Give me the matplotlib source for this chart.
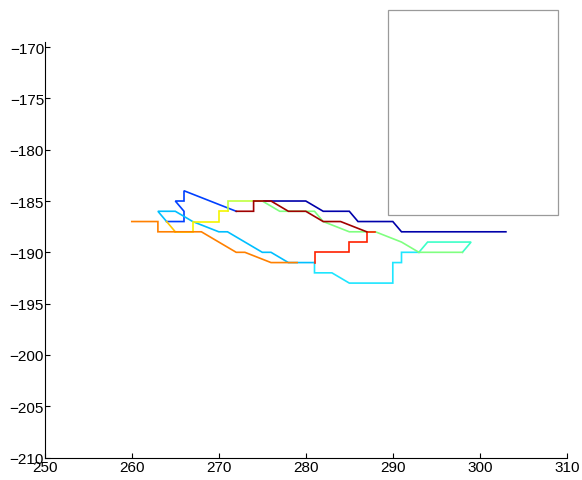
import matplotlib
matplotlib.use("Agg")
import matplotlib.pyplot as plt
from matplotlib.patches import Rectangle

plt.rcParams['font.family'] = ['Liberation Sans', 'DejaVu Sans']

# Track polylines (x, y)
navy_x = [274, 280, 282, 285, 286, 290, 291, 303]
navy_y = [-185, -185, -186, -186, -187, -187, -188, -188]

blue_x = [272, 266, 266, 265, 266, 266, 264]
blue_y = [-186, -184, -185, -185, -186, -187, -187]

lightblue_x = [264, 263, 265, 267, 270, 271, 275, 276, 278, 281]
lightblue_y = [-187, -186, -186, -187, -188, -188, -190, -190, -191, -191]

cyan_x = [281, 281, 283, 285, 290, 290, 291, 291, 293]
cyan_y = [-191, -192, -192, -193, -193, -191, -191, -190, -190]

aqua_x = [293, 294, 299, 298]
aqua_y = [-190, -189, -189, -190]

green_x = [275, 277, 281, 282, 285, 288, 291, 293, 298]
green_y = [-185, -186, -186, -187, -188, -188, -189, -190, -190]

yellowgreen_x = [271, 271, 275]
yellowgreen_y = [-186, -185, -185]

yellow_x = [265, 267, 267, 270, 270, 271]
yellow_y = [-188, -188, -187, -187, -186, -186]

gold_x = [264, 265]
gold_y = [-187, -188]

orange_x = [260, 263, 263, 268, 272, 273, 276, 279]
orange_y = [-187, -187, -188, -188, -190, -190, -191, -191]

red_x = [281, 281, 285, 285, 287, 287, 288]
red_y = [-191, -190, -190, -189, -189, -188, -188]

darkred_x = [287, 284, 282, 280, 278, 276, 274, 274, 272]
darkred_y = [-188, -187, -187, -186, -186, -185, -185, -186, -186]

series = [
    (navy_x, navy_y, '#0000aa'),
    (blue_x, blue_y, '#0040ff'),
    (lightblue_x, lightblue_y, '#00bfff'),
    (cyan_x, cyan_y, '#1ee6ff'),
    (aqua_x, aqua_y, '#3cffc8'),
    (green_x, green_y, '#80ff80'),
    (yellowgreen_x, yellowgreen_y, '#c0ff40'),
    (yellow_x, yellow_y, '#f5f500'),
    (gold_x, gold_y, '#ffc800'),
    (orange_x, orange_y, '#ff8000'),
    (red_x, red_y, '#ff2000'),
    (darkred_x, darkred_y, '#a00000'),
]

x_ticks = [250, 260, 270, 280, 290, 300, 310]
y_ticks = [-210, -205, -200, -195, -190, -185, -180, -175, -170]

W, H = 582, 481
fig = plt.figure(figsize=(W / 100, H / 100), dpi=100)
ax = fig.add_axes([44.8 / W, (H - 458.5) / H, 522 / W, (458.5 - 43) / H])

for xs, ys, c in series:
    ax.plot(xs, ys, color=c, linewidth=1.2, solid_joinstyle='miter')

ax.set_xlim(250, 310)
ax.set_ylim(-210, -169.5)
ax.set_xticks(x_ticks)
ax.set_yticks(y_ticks)
ax.spines['top'].set_visible(False)
ax.spines['right'].set_visible(False)
for s in ('left', 'bottom'):
    ax.spines[s].set_linewidth(0.8)
ax.tick_params(direction='in', length=3.5, width=0.8, labelsize=11, pad=0.5)
ax.tick_params(axis='x', pad=1.5)

# empty legend box
fig.patches.append(Rectangle((388 / W, (H - 216) / H), 170 / W, 205 / H,
                             transform=fig.transFigure, facecolor='white',
                             edgecolor='#9a9a9a', linewidth=0.9, zorder=5))

fig.savefig('out.png', dpi=100)
